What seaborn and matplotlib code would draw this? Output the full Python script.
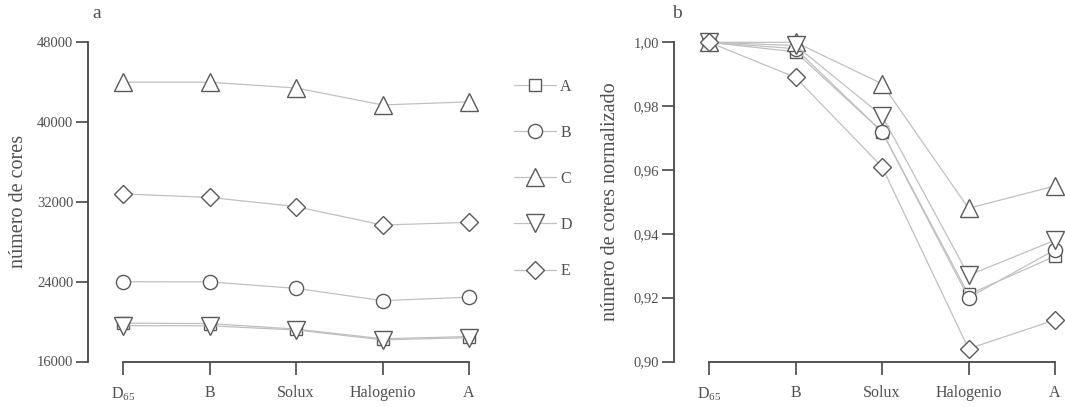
import numpy as np
import pandas as pd
import matplotlib
matplotlib.use("Agg")
import matplotlib.pyplot as plt
from matplotlib.lines import Line2D
import seaborn as sns

# ---------------- data ----------------
illuminants = ["D65", "B", "Solux", "Halogenio", "A"]
tick_labels = [r"D$_{\mathregular{65}}$", "B", "Solux", "Halogenio", "A"]
series_names = ["A", "B", "C", "D", "E"]

counts_A = [19850, 19800, 19250, 18280, 18500]
counts_B = [24000, 23980, 23330, 22100, 22450]
counts_C = [44000, 44000, 43420, 41720, 42030]
counts_D = [19600, 19580, 19160, 18170, 18390]
counts_E = [32800, 32450, 31530, 29680, 29950]

norm_A = [1.000, 0.997, 0.972, 0.921, 0.933]
norm_B = [1.000, 0.998, 0.972, 0.920, 0.935]
norm_C = [1.000, 1.000, 0.987, 0.948, 0.955]
norm_D = [1.000, 0.999, 0.977, 0.927, 0.938]
norm_E = [1.000, 0.989, 0.961, 0.904, 0.913]

yticks_left = [16000, 24000, 32000, 40000, 48000]
yticks_right = [0.90, 0.92, 0.94, 0.96, 0.98, 1.00]

counts = [counts_A, counts_B, counts_C, counts_D, counts_E]
norms = [norm_A, norm_B, norm_C, norm_D, norm_E]

# ---------------- style ----------------
sns.set_style("ticks")
plt.rcParams["font.family"] = ["Liberation Serif", "DejaVu Serif"]
plt.rcParams["mathtext.fontset"] = "custom"
plt.rcParams["mathtext.rm"] = "Liberation Serif"
plt.rcParams["mathtext.it"] = "Liberation Serif:italic"

dark = "#474747"
txt = "#505050"
line_col = "#c0c0c0"
edge_col = "#5a5a5a"
markers = {"A": "s", "B": "o", "C": "^", "D": "v", "E": "D"}
msizes = {"A": 9.2, "B": 10.2, "C": 13.0, "D": 13.0, "E": 9.6}

rows = []
for name, cv, nv in zip(series_names, counts, norms):
    for i, ill in enumerate(illuminants):
        rows.append({"serie": name, "pos": i, "illum": ill,
                     "count": cv[i], "norm": nv[i]})
df = pd.DataFrame(rows)

W, H = 1065, 407
fig = plt.figure(figsize=(W / 100, H / 100), dpi=100)

xlo, xhi = -0.405, 4.1
ax_w = (xhi - xlo) * 86.5
ax_bot = (H - 361.5) / H
ax_h = (361.5 - 42.3) / H
axL = fig.add_axes([88 / W, ax_bot, ax_w / W, ax_h])
axR = fig.add_axes([674 / W, ax_bot, ax_w / W, ax_h])


def draw(ax, col):
    for name in series_names:
        sub = df[df["serie"] == name]
        sns.lineplot(data=sub, x="pos", y=col, ax=ax, color=line_col,
                     linewidth=0.9, marker=markers[name],
                     markersize=msizes[name], markerfacecolor="white",
                     markeredgecolor=edge_col, markeredgewidth=1.0,
                     clip_on=False, legend=False, errorbar=None)


draw(axL, "count")
draw(axR, "norm")

for ax, ylim, yt, fmt in [
    (axL, (16000, 48000), yticks_left, lambda v: f"{v:d}"),
    (axR, (0.90, 1.00), yticks_right, lambda v: f"{v:.2f}".replace(".", ",")),
]:
    ax.set_xlim(xlo, xhi)
    ax.set_ylim(*ylim)
    ax.set_yticks(yt)
    ax.set_yticklabels([fmt(v) for v in yt], fontsize=10.5, color=txt)
    ax.set_xticks(range(len(illuminants)))
    ax.set_xticklabels(tick_labels, fontsize=11.5, color=txt)
    ax.set_xlabel("")
    for s in ["top", "right"]:
        ax.spines[s].set_visible(False)
    for s in ["left", "bottom"]:
        ax.spines[s].set_color(dark)
        ax.spines[s].set_linewidth(1.3)
    ax.spines["left"].set_bounds(*ylim)
    ax.spines["bottom"].set_bounds(0, len(illuminants) - 1)
    ax.tick_params(axis="y", direction="out", length=9, width=1.2,
                   color=dark, pad=1.5)
    ax.tick_params(axis="x", direction="out", length=9, width=1.2,
                   color=dark, pad=8)
    ax.set_facecolor("white")

axL.set_ylabel("número de cores", fontsize=14.5, color=txt)
axL.yaxis.set_label_coords(-0.155, 0.5)
axR.set_ylabel("número de cores normalizado", fontsize=14.5, color=txt)
axR.yaxis.set_label_coords(-0.138, 0.5)

fig.text(97 / W, 1 - 14 / H, "a", fontsize=14, color=txt, va="center", ha="center")
fig.text(677 / W, 1 - 14 / H, "b", fontsize=14, color=txt, va="center", ha="center")

handles = [Line2D([0], [0], color=line_col, linewidth=0.9,
                  marker=markers[n], markersize=msizes[n],
                  markerfacecolor="white", markeredgecolor=edge_col,
                  markeredgewidth=1.0) for n in series_names]
leg = fig.legend(handles, series_names, loc="upper left",
                 bbox_to_anchor=(514 / W, 1 - 79 / H), frameon=False,
                 fontsize=11.5, handlelength=2.6, handletextpad=0.3,
                 labelspacing=1.88, borderpad=0, borderaxespad=0)
for t in leg.get_texts():
    t.set_color(txt)

fig.savefig("out.png", dpi=100, facecolor="white")
